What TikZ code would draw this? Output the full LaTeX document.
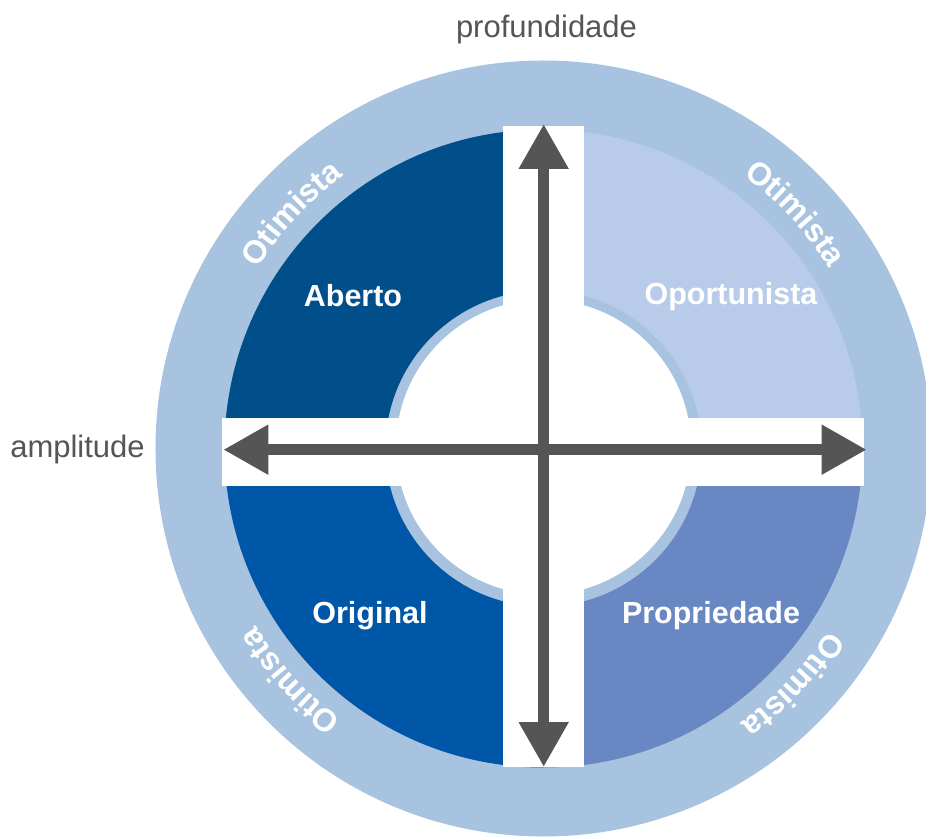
\documentclass[tikz,border=0pt]{standalone}
\usepackage{fontspec}
\setmainfont{Liberation Sans}
\usetikzlibrary{arrows.meta,decorations.text}

\definecolor{ringblue}{RGB}{168,195,223}
\definecolor{abertoblue}{RGB}{0,79,138}
\definecolor{originalblue}{RGB}{0,87,168}
\definecolor{oportblue}{RGB}{184,204,234}
\definecolor{propblue}{RGB}{105,135,195}
\definecolor{axisgrey}{RGB}{85,85,85}

\tikzset{
  quadlabel/.style={text=white, font=\fontsize{30.5}{32}\selectfont\bfseries},
  axislabel/.style={text=axisgrey, font=\fontsize{31}{33}\selectfont},
  axisarrow/.style={draw=axisgrey, line width=11pt,
    arrows={Triangle[length=45pt,width=47pt]-Triangle[length=45pt,width=47pt]}},
  arclabel/.style={decorate, decoration={text along path, text align=center,
    text={|\fontsize{32}{33}\selectfont\bfseries\color{white}|Otimista}}},
}

\begin{document}
\begin{tikzpicture}[x=1pt,y=1pt]
  \useasboundingbox (-543.5,-388.5) rectangle (382.5,448.5);

  % outer ring
  \fill[ringblue] (0,0) circle[radius=388];

  % four quadrant sectors
  \fill[abertoblue] (90:319) arc[start angle=90,end angle=180,radius=319]
    -- (180:158) arc[start angle=180,end angle=90,radius=158] -- cycle;
  \fill[oportblue] (0:319) arc[start angle=0,end angle=90,radius=319]
    -- (90:158) arc[start angle=90,end angle=0,radius=158] -- cycle;
  \fill[originalblue] (180:319) arc[start angle=180,end angle=270,radius=319]
    -- (270:158) arc[start angle=270,end angle=180,radius=158] -- cycle;
  \fill[propblue] (270:319) arc[start angle=270,end angle=360,radius=319]
    -- (360:158) arc[start angle=360,end angle=270,radius=158] -- cycle;

  % white centre disc and cross bands
  \fill[white] (0,1.3) circle[radius=147.5];
  \fill[white] (-40.3,-318.8) rectangle (40.5,322.5);
  \fill[white] (-321.5,-37.5) rectangle (320.8,30.8);

  % curved labels on the ring (each arc runs clockwise, centred on its diagonal)
  \path[arclabel] (167:338) arc[start angle=167,end angle=107,radius=338];
  \path[arclabel] (73:338) arc[start angle=73,end angle=13,radius=338];
  \path[arclabel] (-13.5:338) arc[start angle=-13.5,end angle=-73.5,radius=338];
  \path[arclabel] (-107.5:338) arc[start angle=-107.5,end angle=-167.5,radius=338];

  % quadrant names
  \node[quadlabel] (aberto) at (-190.5,152.5) {Aberto};
  \node[quadlabel] (oport) at (187.5,151.5) {Oportunista};
  \node[quadlabel] (original) at (-173.5,-167.5) {Original};
  \node[quadlabel] (prop) at (167.5,-167.5) {Propriedade};

  % axes
  \coordinate (ytop) at (0.2,324.5);
  \coordinate (ybot) at (0.2,-318.5);
  \coordinate (xleft) at (-320.2,-1.2);
  \coordinate (xright) at (323.2,-1.2);
  \draw[axisarrow] (ybot) -- (ytop);
  \draw[axisarrow] (xleft) -- (xright);

  % axis names
  \node[axislabel] (depth) at (3,419) {profundidade};
  \node[axislabel] (breadth) at (-466,-0.5) {amplitude};
\end{tikzpicture}
\end{document}
